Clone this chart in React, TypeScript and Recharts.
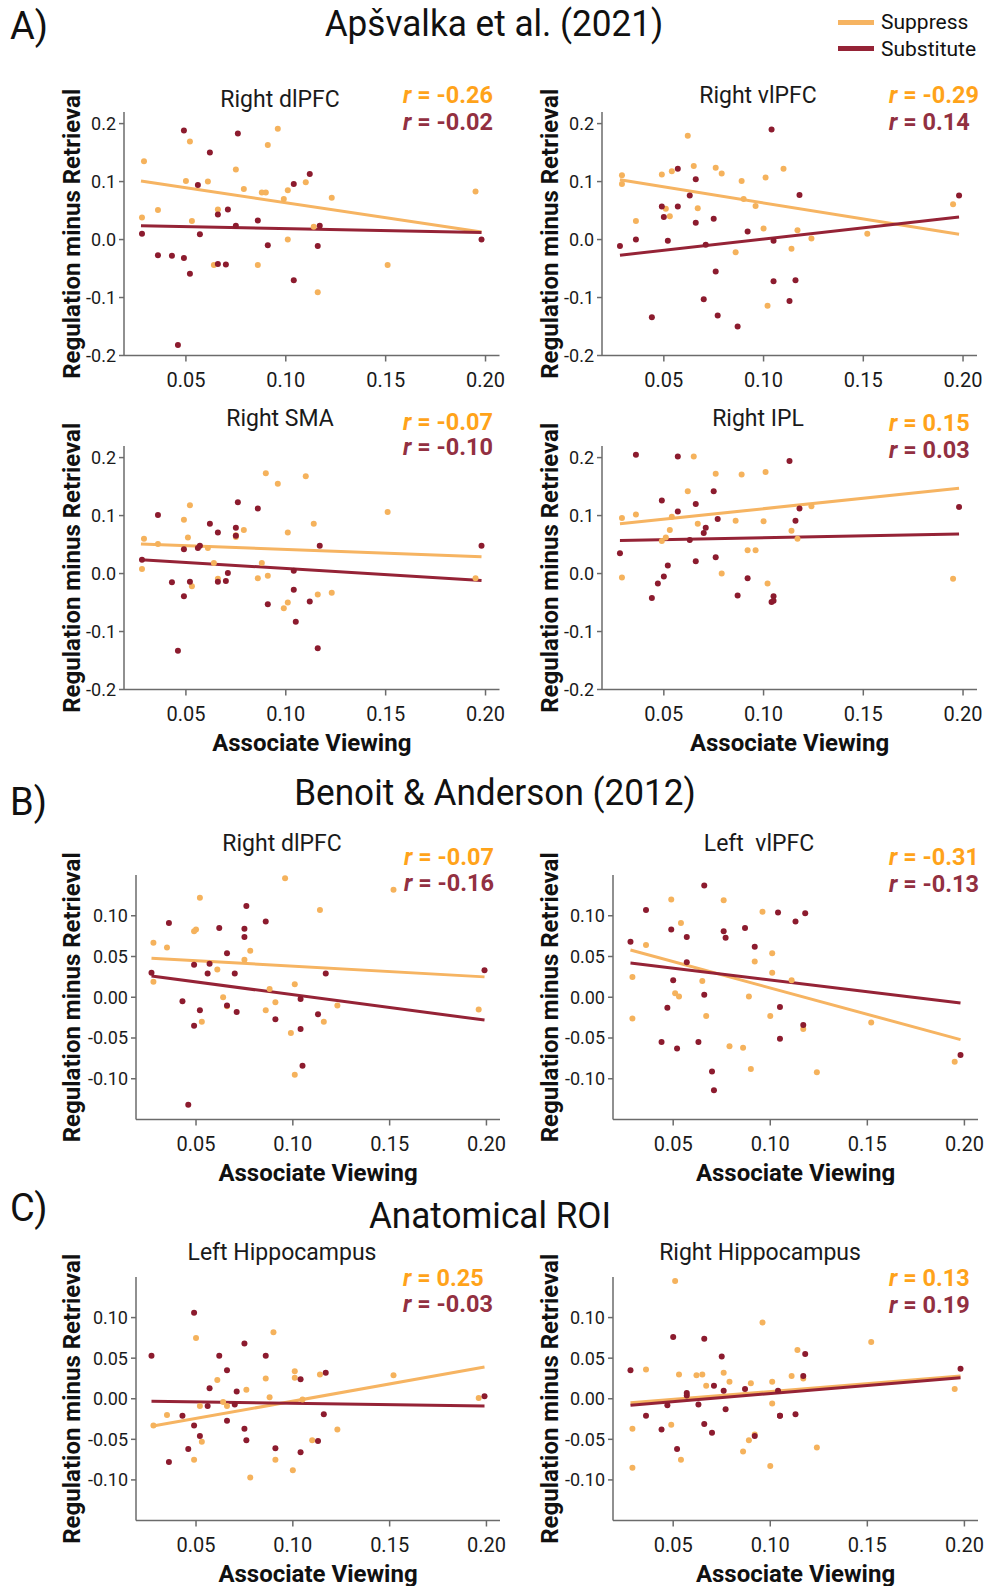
import React from "react";
import { ScatterChart, Scatter, XAxis, YAxis, ReferenceLine, Label } from "recharts";

type Pt = [number, number];

// ---- text ----
const seriesNames = ["Suppress", "Substitute"];
const sectionLetters = ["A)", "B)", "C)"];
const sectionTitles = ["Apšvalka et al. (2021)", "Benoit & Anderson (2012)", "Anatomical ROI"];
const panelTitles = [
    "Right dlPFC", "Right vlPFC", "Right SMA", "Right IPL",
    "Right dlPFC", "Left  vlPFC", "Left Hippocampus", "Right Hippocampus",
];
const suppressR = ["-0.26", "-0.29", "-0.07", "0.15", "-0.07", "-0.31", "0.25", "0.13"];
const substituteR = ["-0.02", "0.14", "-0.10", "0.03", "-0.16", "-0.13", "-0.03", "0.19"];

// ---- ticks ----
const xTicks = [0.05, 0.1, 0.15, 0.2];
const yTicksA = [-0.2, -0.1, 0, 0.1, 0.2];
const yTicksBC = [-0.1, -0.05, 0, 0.05, 0.1];

// ---- A) Apšvalka et al. (2021) ----
const a1Suppress: Pt[] = [[0.029,0.135],[0.028,0.038],[0.036,0.051],[0.050,0.101],[0.052,0.169],[0.053,0.032],[0.061,0.100],[0.064,-0.044],[0.066,0.052],[0.075,0.121],[0.079,0.087],[0.086,-0.044],[0.088,0.081],[0.090,0.081],[0.091,0.163],[0.096,0.191],[0.099,0.070],[0.101,0.000],[0.101,0.085],[0.110,0.099],[0.114,0.022],[0.116,-0.091],[0.123,0.072],[0.151,-0.044],[0.195,0.083]];
const a1Substitute: Pt[] = [[0.028,0.010],[0.036,-0.027],[0.043,-0.028],[0.049,0.188],[0.049,-0.032],[0.046,-0.182],[0.052,-0.059],[0.056,0.094],[0.057,0.009],[0.062,0.150],[0.066,0.043],[0.066,-0.042],[0.070,-0.043],[0.071,0.052],[0.075,0.024],[0.076,0.183],[0.086,0.033],[0.091,-0.010],[0.104,0.096],[0.104,-0.070],[0.112,0.113],[0.116,-0.011],[0.117,0.024],[0.198,0.000]];
const a1Fits: Pt[][] = [[[0.0275,0.101],[0.198,0.013]], [[0.0275,0.024],[0.198,0.012]]];

const a2Suppress: Pt[] = [[0.029,0.111],[0.029,0.096],[0.036,0.032],[0.049,0.112],[0.051,0.053],[0.053,0.040],[0.054,0.118],[0.062,0.179],[0.065,0.127],[0.067,0.054],[0.076,0.124],[0.079,0.114],[0.086,-0.022],[0.089,0.101],[0.090,0.070],[0.096,0.058],[0.100,0.019],[0.101,0.107],[0.102,-0.114],[0.110,0.122],[0.114,-0.016],[0.117,0.016],[0.124,0.002],[0.152,0.010],[0.195,0.061]];
const a2Substitute: Pt[] = [[0.028,-0.011],[0.036,0.000],[0.044,-0.134],[0.049,0.057],[0.050,0.039],[0.052,-0.002],[0.057,0.057],[0.057,0.122],[0.063,0.076],[0.066,0.104],[0.066,0.029],[0.070,-0.103],[0.071,-0.009],[0.075,0.036],[0.076,-0.055],[0.077,-0.131],[0.087,-0.150],[0.092,0.014],[0.104,0.190],[0.105,-0.002],[0.105,-0.072],[0.113,-0.106],[0.116,-0.070],[0.118,0.077],[0.198,0.076]];
const a2Fits: Pt[][] = [[[0.028,0.103],[0.198,0.009]], [[0.028,-0.027],[0.198,0.039]]];

const a3Suppress: Pt[] = [[0.029,0.060],[0.028,0.008],[0.036,0.051],[0.049,0.093],[0.051,0.062],[0.052,0.118],[0.053,-0.022],[0.061,0.044],[0.064,0.018],[0.066,-0.009],[0.075,0.066],[0.075,0.063],[0.079,0.075],[0.086,-0.008],[0.088,0.018],[0.090,0.173],[0.091,-0.004],[0.096,0.155],[0.099,-0.060],[0.101,0.071],[0.101,-0.050],[0.110,0.168],[0.114,0.086],[0.116,-0.036],[0.123,-0.033],[0.151,0.106],[0.195,-0.008]];
const a3Substitute: Pt[] = [[0.028,0.024],[0.036,0.101],[0.043,-0.015],[0.046,-0.133],[0.049,0.042],[0.049,-0.039],[0.052,-0.014],[0.056,0.044],[0.057,0.048],[0.062,0.086],[0.066,0.071],[0.066,-0.014],[0.070,-0.013],[0.071,0.001],[0.075,0.079],[0.075,0.065],[0.076,0.123],[0.086,0.112],[0.091,-0.053],[0.104,-0.028],[0.104,0.005],[0.105,-0.083],[0.112,-0.048],[0.116,-0.129],[0.117,0.048],[0.198,0.048]];
const a3Fits: Pt[][] = [[[0.0275,0.051],[0.198,0.029]], [[0.0275,0.024],[0.198,-0.012]]];

const a4Suppress: Pt[] = [[0.029,0.096],[0.029,-0.007],[0.036,0.102],[0.049,0.056],[0.051,0.062],[0.053,0.075],[0.054,0.098],[0.062,0.142],[0.065,0.202],[0.067,0.086],[0.076,0.172],[0.079,0.000],[0.086,0.091],[0.089,0.171],[0.092,0.040],[0.096,0.040],[0.100,0.090],[0.101,0.175],[0.102,-0.017],[0.114,0.074],[0.117,0.060],[0.124,0.116],[0.195,-0.009]];
const a4Substitute: Pt[] = [[0.028,0.035],[0.036,0.205],[0.044,-0.042],[0.047,-0.017],[0.049,0.126],[0.050,-0.005],[0.052,0.014],[0.057,0.107],[0.057,0.202],[0.063,0.058],[0.066,0.120],[0.066,0.021],[0.070,0.070],[0.071,0.079],[0.075,0.142],[0.076,0.028],[0.077,0.094],[0.087,-0.038],[0.092,-0.008],[0.104,-0.049],[0.105,-0.039],[0.105,-0.047],[0.113,0.194],[0.116,0.091],[0.118,0.112],[0.198,0.115]];
const a4Fits: Pt[][] = [[[0.028,0.086],[0.198,0.147]], [[0.028,0.057],[0.198,0.068]]];

// ---- B) Benoit & Anderson (2012) ----
const b1Suppress: Pt[] = [[0.028,0.067],[0.028,0.019],[0.035,0.061],[0.049,0.081],[0.050,0.083],[0.052,0.122],[0.053,-0.030],[0.061,0.034],[0.064,0.000],[0.066,-0.011],[0.075,0.046],[0.078,0.057],[0.086,-0.016],[0.088,0.010],[0.091,-0.006],[0.096,0.146],[0.099,-0.044],[0.101,0.016],[0.101,-0.095],[0.114,0.107],[0.116,-0.030],[0.123,-0.010],[0.152,0.132],[0.196,-0.015]];
const b1Substitute: Pt[] = [[0.027,0.030],[0.036,0.091],[0.043,-0.005],[0.046,-0.132],[0.049,-0.035],[0.049,0.040],[0.052,-0.016],[0.056,0.029],[0.057,0.041],[0.062,0.085],[0.066,0.054],[0.066,-0.010],[0.070,0.029],[0.071,-0.018],[0.075,0.074],[0.075,0.084],[0.076,0.112],[0.086,0.093],[0.091,-0.027],[0.104,-0.039],[0.104,-0.002],[0.105,-0.084],[0.113,-0.021],[0.117,0.029],[0.199,0.033]];
const b1Fits: Pt[][] = [[[0.027,0.048],[0.199,0.025]], [[0.027,0.026],[0.199,-0.028]]];

const b2Suppress: Pt[] = [[0.029,0.025],[0.029,-0.026],[0.036,0.064],[0.049,0.120],[0.051,0.005],[0.053,0.001],[0.054,0.091],[0.065,0.020],[0.067,-0.023],[0.076,0.119],[0.079,-0.060],[0.086,-0.062],[0.089,0.001],[0.090,-0.088],[0.092,0.044],[0.096,0.105],[0.100,-0.023],[0.101,0.054],[0.101,0.030],[0.111,0.021],[0.117,-0.039],[0.124,-0.092],[0.152,-0.031],[0.195,-0.079]];
const b2Substitute: Pt[] = [[0.028,0.068],[0.036,0.107],[0.044,-0.055],[0.047,-0.013],[0.049,0.083],[0.050,0.021],[0.052,-0.063],[0.057,0.043],[0.057,0.074],[0.063,-0.055],[0.066,0.137],[0.066,0.003],[0.070,-0.091],[0.071,-0.114],[0.076,0.081],[0.077,0.073],[0.087,0.085],[0.092,0.062],[0.104,0.104],[0.105,-0.012],[0.105,-0.051],[0.113,0.093],[0.117,-0.034],[0.118,0.103],[0.198,-0.071]];
const b2Fits: Pt[][] = [[[0.028,0.058],[0.198,-0.052]], [[0.028,0.042],[0.198,-0.007]]];

// ---- C) Anatomical ROI ----
const c1Suppress: Pt[] = [[0.028,-0.033],[0.035,-0.020],[0.050,0.075],[0.052,-0.009],[0.053,-0.053],[0.049,-0.075],[0.061,0.023],[0.064,-0.004],[0.066,-0.009],[0.076,0.011],[0.078,-0.097],[0.086,0.025],[0.088,0.002],[0.090,0.082],[0.091,-0.075],[0.100,-0.088],[0.101,0.034],[0.101,0.026],[0.105,-0.001],[0.110,-0.051],[0.114,0.030],[0.123,-0.038],[0.152,0.029],[0.196,0.001]];
const c1Substitute: Pt[] = [[0.027,0.053],[0.036,-0.078],[0.043,-0.021],[0.046,-0.062],[0.049,0.106],[0.049,-0.033],[0.052,-0.046],[0.056,-0.009],[0.057,0.013],[0.062,0.053],[0.066,0.035],[0.066,-0.027],[0.070,-0.007],[0.071,0.009],[0.075,0.068],[0.075,-0.037],[0.076,-0.051],[0.086,0.053],[0.091,-0.061],[0.104,0.024],[0.104,-0.066],[0.113,-0.052],[0.116,-0.019],[0.117,0.032],[0.199,0.003]];
const c1Fits: Pt[][] = [[[0.027,-0.034],[0.199,0.039]], [[0.027,-0.003],[0.199,-0.009]]];

const c2Suppress: Pt[] = [[0.029,-0.037],[0.029,-0.085],[0.036,0.036],[0.051,0.145],[0.049,-0.032],[0.053,0.030],[0.054,-0.075],[0.062,0.029],[0.065,0.030],[0.067,0.016],[0.076,0.032],[0.079,0.021],[0.086,-0.065],[0.089,-0.051],[0.090,0.019],[0.092,-0.044],[0.096,0.094],[0.100,-0.083],[0.101,-0.006],[0.101,0.021],[0.111,0.028],[0.114,0.060],[0.117,0.025],[0.124,-0.060],[0.152,0.070],[0.195,0.012]];
const c2Substitute: Pt[] = [[0.028,0.035],[0.036,-0.021],[0.044,-0.038],[0.047,-0.008],[0.050,0.076],[0.052,-0.062],[0.057,0.007],[0.057,0.004],[0.063,-0.007],[0.066,-0.031],[0.066,0.074],[0.070,-0.042],[0.071,0.016],[0.075,0.052],[0.076,0.010],[0.077,-0.013],[0.087,0.012],[0.092,-0.046],[0.104,0.010],[0.105,-0.021],[0.105,-0.021],[0.113,-0.019],[0.117,0.028],[0.118,0.055],[0.198,0.037]];
const c2Fits: Pt[][] = [[[0.028,-0.005],[0.198,0.028]], [[0.028,-0.008],[0.198,0.026]]];

// colours
const ORANGE_DOT = "#F5B25C";
const RED_DOT = "#8C1B2E";
const ORANGE_LINE = "#F6B462";
const RED_LINE = "#952336";
const ORANGE_TEXT = "#FFA31A";
const RED_TEXT = "#923041";
const AXIS = "#6b6b6b";

// layout (page pixels of each plot area)
const YW = 90;
const MT = 70; // room above the plot so the rotated y label is not clipped
const MR = 10;
const XH = 66;
const xDomain = [0.019, 0.207];

const layout = [
    { left: 123.5, top: 112, w: 375.5, h: 243.5, yDomain: [-0.2, 0.22], yTicks: yTicksA, dec: 1, xLabel: false, yLabelOff: 53, titleX: 280, titleY: 99, rX: 403, r1Y: 95, r2Y: 122.5 },
    { left: 601.5, top: 112, w: 375, h: 243.5, yDomain: [-0.2, 0.22], yTicks: yTicksA, dec: 1, xLabel: false, yLabelOff: 53, titleX: 758, titleY: 95, rX: 889, r1Y: 95, r2Y: 122.5 },
    { left: 123.5, top: 446, w: 375.5, h: 243.5, yDomain: [-0.2, 0.22], yTicks: yTicksA, dec: 1, xLabel: true, yLabelOff: 53, titleX: 280, titleY: 418.5, rX: 403, r1Y: 422, r2Y: 447 },
    { left: 601.5, top: 446, w: 375, h: 243.5, yDomain: [-0.2, 0.22], yTicks: yTicksA, dec: 1, xLabel: true, yLabelOff: 53, titleX: 758, titleY: 418.5, rX: 889, r1Y: 423, r2Y: 450 },
    { left: 136, top: 874.5, w: 364, h: 244.5, yDomain: [-0.15, 0.15], yTicks: yTicksBC, dec: 2, xLabel: true, yLabelOff: 65, titleX: 282, titleY: 843.5, rX: 404, r1Y: 857, r2Y: 883.5 },
    { left: 612.5, top: 874.5, w: 365, h: 244.5, yDomain: [-0.15, 0.15], yTicks: yTicksBC, dec: 2, xLabel: true, yLabelOff: 64, titleX: 759, titleY: 843.5, rX: 889, r1Y: 857, r2Y: 884 },
    { left: 136, top: 1276.5, w: 364, h: 243.5, yDomain: [-0.15, 0.15], yTicks: yTicksBC, dec: 2, xLabel: true, yLabelOff: 65, titleX: 282, titleY: 1252, rX: 403, r1Y: 1278.5, r2Y: 1304.5 },
    { left: 612.5, top: 1276.5, w: 365, h: 243.5, yDomain: [-0.15, 0.15], yTicks: yTicksBC, dec: 2, xLabel: true, yLabelOff: 64, titleX: 760, titleY: 1252, rX: 889, r1Y: 1278.5, r2Y: 1305 },
];

const suppressSets = [a1Suppress, a2Suppress, a3Suppress, a4Suppress, b1Suppress, b2Suppress, c1Suppress, c2Suppress];
const substituteSets = [a1Substitute, a2Substitute, a3Substitute, a4Substitute, b1Substitute, b2Substitute, c1Substitute, c2Substitute];
const fitSets = [a1Fits, a2Fits, a3Fits, a4Fits, b1Fits, b2Fits, c1Fits, c2Fits];

const toRows = (pts: Pt[]) => pts.map(([x, y]) => ({ x, y }));

const dot = (color: string) => (props: any) => <circle cx={props.cx} cy={props.cy} r={3} fill={color} />;

function TextAt({ x, cy, size, children, center, style }: any) {
    return (
        <div
            style={{
                position: "absolute",
                left: x,
                top: cy - size * 0.487,
                fontSize: size,
                lineHeight: `${size}px`,
                whiteSpace: "pre",
                transform: center ? "translateX(-50%)" : undefined,
                ...style,
            }}
        >
            {children}
        </div>
    );
}

function Panel({ i }: { i: number }) {
    const cfg = layout[i];
    const [fitSup, fitSub] = fitSets[i];
    return (
        <>
            <div style={{ position: "absolute", left: cfg.left - YW, top: cfg.top - MT }}>
                <ScatterChart
                    width={YW + cfg.w + MR}
                    height={MT + cfg.h + XH}
                    margin={{ top: MT, right: MR, left: 0, bottom: 0 }}
                >
                    <XAxis
                        type="number"
                        dataKey="x"
                        domain={xDomain}
                        ticks={xTicks}
                        allowDataOverflow
                        height={XH}
                        tickFormatter={(v: number) => v.toFixed(2)}
                        tick={{ fontSize: 20, fill: "#1a1a1a" }}
                        tickSize={6}
                        tickMargin={11}
                        stroke={AXIS}
                        strokeWidth={1.5}
                    >
                        {cfg.xLabel && (
                            <Label
                                value="Associate Viewing"
                                position="insideBottom"
                                offset={5}
                                style={{ fontSize: 24, fontWeight: 700, fill: "#111" }}
                            />
                        )}
                    </XAxis>
                    <YAxis
                        type="number"
                        dataKey="y"
                        domain={cfg.yDomain}
                        ticks={cfg.yTicks}
                        allowDataOverflow
                        width={YW}
                        tickFormatter={(v: number) => v.toFixed(cfg.dec)}
                        tick={{ fontSize: 18, fill: "#1a1a1a" }}
                        tickSize={5}
                        tickMargin={3}
                        stroke={AXIS}
                        strokeWidth={1.5}
                    >
                        <Label
                            value="Regulation minus Retrieval"
                            angle={-90}
                            position="insideLeft"
                            offset={YW - cfg.yLabelOff}
                            style={{ textAnchor: "middle", fontSize: 24, fontWeight: 700, fill: "#111" }}
                        />
                    </YAxis>
                    <Scatter name={seriesNames[0]} data={toRows(suppressSets[i])} shape={dot(ORANGE_DOT)} isAnimationActive={false} />
                    <Scatter name={seriesNames[1]} data={toRows(substituteSets[i])} shape={dot(RED_DOT)} isAnimationActive={false} />
                    <ReferenceLine
                        segment={fitSup.map(([x, y]) => ({ x, y }))}
                        stroke={ORANGE_LINE}
                        strokeWidth={3}
                    />
                    <ReferenceLine
                        segment={fitSub.map(([x, y]) => ({ x, y }))}
                        stroke={RED_LINE}
                        strokeWidth={3}
                    />
                </ScatterChart>
            </div>
            <TextAt x={cfg.titleX} cy={cfg.titleY} size={23} center style={{ color: "#1a1a1a" }}>
                {panelTitles[i]}
            </TextAt>
            <TextAt x={cfg.rX} cy={cfg.r1Y} size={23.5} style={{ color: ORANGE_TEXT, fontWeight: 700 }}>
                <i>r</i> = {suppressR[i]}
            </TextAt>
            <TextAt x={cfg.rX} cy={cfg.r2Y} size={23.5} style={{ color: RED_TEXT, fontWeight: 700 }}>
                <i>r</i> = {substituteR[i]}
            </TextAt>
        </>
    );
}

const headStyle = { color: "#111", transform: "translateX(-50%) scaleX(0.95)" };

export default function App() {
    return (
        <div
            style={{
                position: "relative",
                width: 988,
                height: 1587,
                background: "#fff",
                overflow: "hidden",
                fontFamily: "Roboto, 'Noto Sans', sans-serif",
            }}
        >
            <style>{"body{margin:0}"}</style>

            {layout.map((_, i) => (
                <Panel key={i} i={i} />
            ))}

            <TextAt x={10} cy={26} size={38} style={{ color: "#111" }}>{sectionLetters[0]}</TextAt>
            <TextAt x={494} cy={23} size={37} style={headStyle}>{sectionTitles[0]}</TextAt>
            <TextAt x={10} cy={802} size={38} style={{ color: "#111" }}>{sectionLetters[1]}</TextAt>
            <TextAt x={495} cy={792} size={37} style={headStyle}>{sectionTitles[1]}</TextAt>
            <TextAt x={10} cy={1208} size={38} style={{ color: "#111" }}>{sectionLetters[2]}</TextAt>
            <TextAt x={490} cy={1215} size={37} style={headStyle}>{sectionTitles[2]}</TextAt>

            {/* legend */}
            <div style={{ position: "absolute", left: 838, top: 20, width: 36, height: 5, background: ORANGE_LINE }} />
            <TextAt x={881} cy={22.5} size={21} style={{ color: "#111" }}>{seriesNames[0]}</TextAt>
            <div style={{ position: "absolute", left: 838, top: 46, width: 36, height: 5, background: RED_LINE }} />
            <TextAt x={881} cy={49} size={21} style={{ color: "#111" }}>{seriesNames[1]}</TextAt>
        </div>
    );
}
